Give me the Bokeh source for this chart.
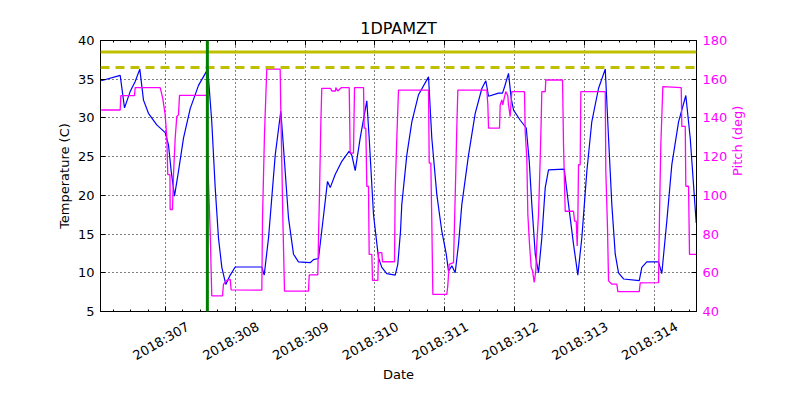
import math
from bokeh.plotting import figure
from bokeh.models import Range1d, LinearAxis, FixedTicker, Span
from bokeh.embed import file_html
from bokeh.resources import INLINE

title_text = "1DPAMZT"

temp_days = [306.079, 306.351, 306.413, 306.494, 306.566, 306.632, 306.685, 306.756, 306.875, 306.996,
             307.043, 307.082, 307.129, 307.186, 307.258, 307.354, 307.473, 307.606, 307.663, 307.712,
             307.759, 307.807, 307.864, 307.927, 307.999, 308.380, 308.414, 308.476, 308.572, 308.652,
             308.691, 308.762, 308.834, 308.905, 309.073, 309.120, 309.192, 309.249, 309.321, 309.360,
             309.431, 309.526, 309.632, 309.669, 309.718, 309.789, 309.884, 309.918, 309.980, 310.052,
             310.099, 310.170, 310.291, 310.328, 310.367, 310.385, 310.457, 310.529, 310.625, 310.768,
             310.815, 310.887, 310.958, 311.022, 311.054, 311.102, 311.150, 311.198, 311.245, 311.341,
             311.437, 311.532, 311.589, 311.628, 311.771, 311.828, 311.857, 311.914, 311.953, 311.986,
             312.082, 312.168, 312.211, 312.248, 312.297, 312.344, 312.391, 312.440, 312.487, 312.712,
             312.774, 312.845, 312.907, 312.964, 313.036, 313.107, 313.203, 313.300, 313.347, 313.394,
             313.443, 313.490, 313.562, 313.787, 313.824, 313.895, 314.063, 314.110, 314.182, 314.254,
             314.350, 314.454, 314.517, 314.603]
temp_c = [34.8, 35.5, 31.3, 33.4, 34.7, 36.3, 32.3, 30.6, 29.1, 28.1,
          26.5, 23.1, 19.9, 23.1, 27.4, 31.2, 34.2, 36.3, 29.5, 21.0,
          14.5, 10.7, 8.5, 9.7, 10.75, 10.75, 9.7, 14.5, 25.2, 30.9,
          26.1, 17.1, 12.4, 11.4, 11.3, 11.7, 11.85, 16.2, 21.8, 21.0,
          22.7, 24.4, 25.7, 25.2, 23.2, 27.4, 32.2, 27.4, 17.5, 11.9,
          10.7, 9.9, 9.7, 11.1, 15.4, 18.8, 25.2, 29.5, 33.0, 35.3,
          27.4, 20.1, 15.4, 12.4, 10.2, 10.9, 10.0, 13.7, 18.8, 25.2,
          30.6, 33.8, 34.8, 32.8, 33.2, 33.2, 34.0, 35.75, 32.5, 31.0,
          29.7, 28.7, 24.4, 18.8, 12.4, 10.0, 14.5, 21.0, 23.3, 23.4,
          18.8, 13.7, 9.7, 14.5, 23.1, 29.5, 33.8, 36.3, 27.4, 18.8,
          12.4, 10.0, 9.2, 9.0, 10.7, 11.4, 11.4, 9.9, 16.7, 24.0,
          29.5, 32.9, 27.4, 16.45]

pitch_days = [306.079, 306.351, 306.360, 306.556, 306.566, 306.924, 306.938, 306.961, 306.996, 307.019,
              307.033, 307.064, 307.067, 307.100, 307.115, 307.139, 307.162, 307.186, 307.201, 307.592,
              307.606, 307.640, 307.663, 307.817, 307.831, 307.878, 307.927, 307.941, 308.380, 308.390,
              308.418, 308.451, 308.643, 308.652, 308.666, 308.681, 308.705, 309.049, 309.059, 309.182,
              309.192, 309.206, 309.225, 309.239, 309.364, 309.383, 309.436, 309.440, 309.468, 309.521,
              309.632, 309.646, 309.693, 309.708, 309.837, 309.847, 309.870, 309.884, 309.908, 309.918,
              309.956, 309.966, 310.042, 310.052, 310.099, 310.109, 310.281, 310.291, 310.314, 310.338,
              310.768, 310.778, 310.801, 310.815, 310.830, 311.030, 311.044, 311.064, 311.126, 311.140,
              311.159, 311.173, 311.188, 311.603, 311.618, 311.628, 311.785, 311.795, 311.818, 311.832,
              311.857, 311.875, 311.904, 311.914, 311.938, 311.961, 312.143, 312.153, 312.176, 312.191,
              312.215, 312.239, 312.258, 312.282, 312.305, 312.319, 312.344, 312.368, 312.383, 312.391,
              312.440, 312.448, 312.688, 312.702, 312.726, 312.845, 312.860, 312.884, 312.898, 312.907,
              312.917, 312.941, 312.950, 313.300, 313.308, 313.332, 313.347, 313.394, 313.466, 313.480,
              313.787, 313.801, 314.063, 314.077, 314.096, 314.125, 314.388, 314.397, 314.446, 314.454,
              314.493, 314.507, 314.607]
pitch_deg = [144.1, 144.1, 151.5, 151.5, 155.7, 155.7, 153.6, 150.1, 141.6, 129.6,
             110.7, 110.7, 92.7, 92.7, 110.7, 129.6, 140.7, 141.6, 151.7, 151.7,
             117.6, 81.5, 48.1, 48.1, 54.1, 56.1, 56.6, 51.2, 51.0, 88.4,
             131.3, 165.2, 165.2, 143.3, 117.6, 88.4, 50.5, 50.5, 58.9, 58.9,
             78.1, 100.4, 136.4, 155.3, 155.3, 153.9, 153.9, 155.7, 153.9, 155.7,
             155.7, 121.8, 121.8, 155.7, 155.7, 134.7, 134.7, 104.7, 104.7, 69.5,
             69.5, 56.1, 56.1, 70.4, 70.4, 65.7, 65.7, 103.8, 129.6, 154.4,
             154.4, 116.7, 116.7, 86.7, 48.8, 48.8, 53.2, 64.4, 65.2, 85.0,
             112.4, 134.7, 154.4, 154.4, 146.7, 134.7, 134.7, 146.7, 149.3, 146.7,
             151.0, 153.6, 151.5, 146.7, 140.7, 153.6, 153.6, 133.0, 119.3, 90.1,
             74.6, 62.7, 61.0, 55.0, 61.0, 74.6, 90.1, 119.3, 139.9, 153.6,
             153.6, 159.6, 159.6, 126.1, 91.8, 91.8, 86.7, 86.7, 73.8, 86.7,
             115.8, 115.8, 153.6, 153.6, 112.4, 83.2, 55.8, 54.1, 54.1, 50.3,
             50.3, 54.8, 54.9, 90.1, 126.1, 156.2, 155.7, 135.6, 135.6, 104.7,
             104.7, 69.5, 69.5]

day_ticks = [307, 308, 309, 310, 311, 312, 313, 314]
day_labels = ["2018:307", "2018:308", "2018:309", "2018:310", "2018:311", "2018:312", "2018:313", "2018:314"]
temp_ticks = [5, 10, 15, 20, 25, 30, 35, 40]
pitch_ticks = [40, 60, 80, 100, 120, 140, 160, 180]
planning_limit = 36.5
yellow_limit = 38.5
event_day = 307.6
x_start, x_end = 306.069, 314.607
temp_lo, temp_hi = 5, 40
pitch_lo, pitch_hi = 40, 180

FONT = "DejaVu Sans"
MAGENTA = "#ff00ff"
LABEL_SHIFT = 0.323   # days: moves the slanted date labels so they are centred on their ticks

p = figure(width=784, height=384, output_backend="svg", toolbar_location=None,
           x_range=Range1d(x_start, x_end), y_range=Range1d(temp_lo, temp_hi),
           title=title_text, min_border_left=100, min_border_right=88,
           min_border_top=40, min_border_bottom=72)
p.extra_y_ranges = {"pitch": Range1d(pitch_lo, pitch_hi)}
p.extra_x_ranges = {"lab": Range1d(x_start - LABEL_SHIFT, x_end - LABEL_SHIFT)}
p.background_fill_color = "white"
p.border_fill_color = "white"
p.outline_line_color = "black"
p.outline_line_width = 1

p.title.text_font = FONT
p.title.text_font_size = "16px"
p.title.text_font_style = "normal"
p.title.text_color = "black"
p.title.align = "center"
p.title.standoff = 6

minor_days = [q / 4 for q in range(int(x_start * 4) + 1, int(x_end * 4) + 1) if q % 4 != 0]
xt = FixedTicker(ticks=day_ticks, minor_ticks=minor_days)
yt = FixedTicker(ticks=temp_ticks, minor_ticks=[])
pt = FixedTicker(ticks=pitch_ticks, minor_ticks=[])

def style_axis(ax):
    ax.major_tick_in = 5
    ax.major_tick_out = 0
    ax.minor_tick_in = 2
    ax.minor_tick_out = 0
    ax.axis_line_color = "black"
    ax.major_tick_line_color = "black"
    ax.minor_tick_line_color = "black"
    ax.major_label_text_font = FONT
    ax.major_label_text_font_size = "13px"
    ax.major_label_text_color = "black"
    ax.axis_label_text_font = FONT
    ax.axis_label_text_font_size = "13px"
    ax.axis_label_text_font_style = "normal"
    ax.axis_label_text_color = "black"
    ax.major_label_standoff = 6

# bottom axis: ticks only
xa = p.xaxis[0]
xa.ticker = xt
style_axis(xa)
xa.major_label_text_color = None

# second bottom axis carrying the slanted date labels and the "Date" title
la = LinearAxis(x_range_name="lab", ticker=FixedTicker(ticks=day_ticks, minor_ticks=[]),
                axis_label="Date")
style_axis(la)
la.major_label_overrides = {d: s for d, s in zip(day_ticks, day_labels)}
la.major_label_orientation = math.pi / 6
la.axis_line_color = None
la.major_tick_line_color = None
la.minor_tick_line_color = None
la.major_label_standoff = 14
la.axis_label_standoff = -6
p.add_layout(la, "below")

ya = p.yaxis[0]
ya.ticker = yt
ya.axis_label = "Temperature (C)"
style_axis(ya)
ya.axis_label_standoff = 3

ra = LinearAxis(y_range_name="pitch", ticker=pt, axis_label="Pitch (deg)")
style_axis(ra)
ra.major_label_text_color = MAGENTA
ra.axis_label_text_color = MAGENTA
ra.axis_label_standoff = 7
if "axis_label_orientation" in ra.properties():
    ra.axis_label_orientation = math.pi / 2
p.add_layout(ra, "right")

ta = LinearAxis(ticker=xt)
style_axis(ta)
ta.major_label_text_font_size = "1px"
ta.major_label_text_color = None
ta.major_label_standoff = 0
p.add_layout(ta, "above")

for g in (p.xgrid[0], p.ygrid[0]):
    g.grid_line_color = "black"
    g.grid_line_dash = "1 3"
    g.grid_line_width = 1
p.xgrid[0].ticker = xt
p.ygrid[0].ticker = yt

p.line(temp_days, temp_c, line_color="#0000ff", line_width=1.2)
p.line(pitch_days, pitch_deg, line_color=MAGENTA, line_width=1.3, y_range_name="pitch")

p.add_layout(Span(location=yellow_limit, dimension="width", line_color="#bfbf00", line_width=3))
p.add_layout(Span(location=planning_limit, dimension="width", line_color="#bfbf00", line_width=3,
                  line_dash="9 6"))
p.add_layout(Span(location=event_day, dimension="height", line_color="#008000", line_width=3))

open("out.html", "w").write(file_html(p, INLINE))
